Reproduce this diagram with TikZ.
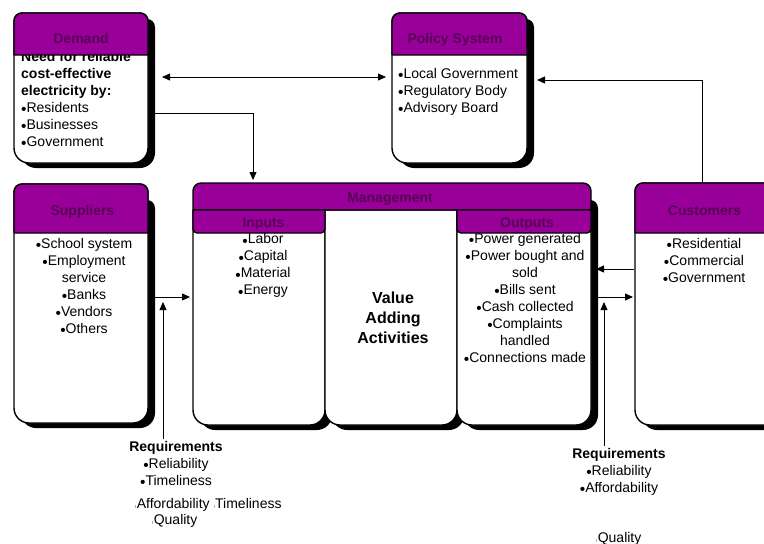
\documentclass[tikz,border=0pt]{standalone}
\usepackage{fontspec}
\usepackage{graphicx}
\setmainfont{Liberation Sans}
\usetikzlibrary{arrows.meta}

\definecolor{hdr}{HTML}{990099}
\definecolor{hdrtext}{HTML}{560056}
\definecolor{markc}{RGB}{170,190,120}

% small bullet sitting low on the line
\newcommand\bul{\raisebox{-2.6pt}{\scalebox{1.1}{\textbullet}}}
% faint tick in front of the loose requirement words
\newcommand\faint{\textcolor{markc}{\rule{0.8pt}{3.5pt}}\kern0.8pt}

% rounded panel: options, x1, y1, x2, y2, top radius, bottom radius
\newcommand\rshape[7]{%
  \path[#1] ({#2},{#3+#6}) .. controls ({#2},{#3+0.45*#6}) and ({#2+0.45*#6},{#3}) .. ({#2+#6},{#3})
    -- ({#4-#6},{#3}) .. controls ({#4-0.45*#6},{#3}) and ({#4},{#3+0.45*#6}) .. ({#4},{#3+#6})
    -- ({#4},{#5-#7}) .. controls ({#4},{#5-0.45*#7}) and ({#4-0.45*#7},{#5}) .. ({#4-#7},{#5})
    -- ({#2+#7},{#5}) .. controls ({#2+0.45*#7},{#5}) and ({#2},{#5-0.45*#7}) .. ({#2},{#5-#7})
    -- cycle;}

\tikzset{
  shadow/.style={fill=black},
  panel/.style={fill=white, draw=black, line width=1.4pt},
  header/.style={fill=hdr, draw=black, line width=1.4pt},
  frame/.style={inner sep=0pt, outer sep=0pt, draw=none},
  bodytext/.style={font=\fontsize{14}{17}\selectfont, inner sep=0pt},
  headtext/.style={font=\fontsize{14}{17}\selectfont\bfseries, text=hdrtext, inner sep=0pt, anchor=base},
  bigtext/.style={font=\fontsize{16}{20}\selectfont\bfseries, inner sep=0pt},
  link/.style={draw=black, line width=0.8pt, >={Triangle[length=8pt,width=7pt]}}
}

\begin{document}
\begin{tikzpicture}[x=1pt, y=-1pt]
\useasboundingbox (0,0) rectangle (764,544);
\clip (0,0) rectangle (764,544);
\fill[white] (0,0) rectangle (764,544);

% ---------- Demand ----------
\rshape{shadow}{21}{19}{155}{168}{8}{15}
\rshape{panel}{14}{13}{148}{163}{8}{15}
\node[bodytext, anchor=north west, align=left] (demandL) at (21,49.1)
  {\strut\textbf{Need for reliable}\\ \textbf{cost-effective}\\ \textbf{electricity by:}\\
   \bul Residents\\ \bul Businesses\\ \bul Government};
\rshape{header}{14}{13}{148}{55}{8}{0.5}
\node[headtext] (demandT) at (81,43) {Demand};
\node[frame, minimum width=134pt, minimum height=150pt] (demand) at (81,88) {};

% ---------- Policy System ----------
\rshape{shadow}{399}{19}{534}{168}{8}{15}
\rshape{panel}{392}{13}{527}{163}{8}{15}
\node[bodytext, anchor=north west, align=left] (policyL) at (398,66.1)
  {\strut\bul Local Government\\ \bul Regulatory Body\\ \bul Advisory Board};
\rshape{header}{392}{13}{527}{55}{8}{0.5}
\node[headtext] (policyT) at (455,43) {Policy System};
\node[frame, minimum width=135pt, minimum height=150pt] (policy) at (459.5,88) {};

% ---------- Suppliers ----------
\rshape{shadow}{21}{200}{155}{428}{8}{15}
\rshape{panel}{14}{184}{148}{423}{8}{15}
\node[bodytext, anchor=north, align=center] (supL) at (84,236.1)
  {\strut\bul School system\\ \bul Employment\\ service\\ \bul Banks\\ \bul Vendors\\ \bul Others};
\rshape{header}{14}{184}{148}{233}{8}{0.5}
\node[headtext] (supT) at (82.5,215) {Suppliers};
\node[frame, minimum width=134pt, minimum height=239pt] (suppliers) at (81,303.5) {};

% ---------- Management ----------
\rshape{shadow}{200}{215}{332}{430}{0.5}{15}
\rshape{shadow}{332}{215}{464}{430}{0.5}{15}
\rshape{shadow}{464}{200}{598}{430}{8}{15}
\rshape{panel}{193}{210}{325}{425}{0.5}{15}
\rshape{panel}{325}{210}{457}{425}{0.5}{15}
\rshape{panel}{457}{210}{591}{425}{0.5}{15}
\rshape{header}{193}{183}{591}{210}{8}{0.5}
\rshape{header}{193}{210}{325}{233}{0.5}{4}
\rshape{header}{457}{210}{591}{233}{0.5}{4}
\node[headtext] (mgmtT) at (390,202) {Management};
\node[headtext] (inT) at (263.5,227) {Inputs};
\node[headtext] (outT) at (527,227) {Outputs};
\node[bodytext, anchor=north, align=center] (inL) at (263,231.6)
  {\strut\bul Labor\\ \bul Capital\\ \bul Material\\ \bul Energy};
\node[bigtext, anchor=north, align=center] (valueL) at (393,289)
  {\strut Value\\ Adding\\ Activities};
\node[bodytext, anchor=north, align=center] (outL) at (525,231.1)
  {\strut\bul Power generated\\ \bul Power bought and\\ sold\\ \bul Bills sent\\
   \bul Cash collected\\ \bul Complaints\\ handled\\ \bul Connections made};
\node[frame, minimum width=398pt, minimum height=242pt] (mgmt) at (392,304) {};

% ---------- Customers ----------
\rshape{shadow}{642}{189}{800}{430}{8}{15}
\rshape{panel}{635}{183}{793}{425}{8}{15}
\node[bodytext, anchor=north, align=center] (custL) at (704,236.1)
  {\strut\bul Residential\\ \bul Commercial\\ \bul Government};
\rshape{header}{635}{183}{793}{233}{8}{0.5}
\node[headtext] (custT) at (704.5,215) {Customers};
\node[frame, minimum width=158pt, minimum height=242pt] (customers) at (714,304) {};

% ---------- Requirements ----------
\node[bodytext, anchor=north, align=center] (reqL) at (176,439.1)
  {\strut\textbf{Requirements}\\ \bul Reliability\\ \bul Timeliness};
\node[bodytext, anchor=base west] (affL) at (135,508) {\faint Affordability \faint Timeliness};
\node[bodytext, anchor=base west] (qualL) at (152,524) {\faint Quality};
\node[bodytext, anchor=north, align=center] (reqR) at (619,446.1)
  {\strut\textbf{Requirements}\\ \bul Reliability\\ \bul Affordability};
\node[bodytext, anchor=base west] (qualR) at (596,542) {\faint Quality};

% ---------- connectors ----------
\coordinate (joinL) at (163,297);
\coordinate (joinR) at (604,297);
\draw[link, <->, shorten <=14pt, shorten >=6pt] ([yshift=11pt]demand.east) -- ([yshift=11pt]policy.west);
\draw[link, ->, shorten <=7pt, shorten >=3pt] ([yshift=-25pt]demand.east) -| ([xshift=-139pt]mgmt.north);
\draw[link, ->, shorten >=10pt] ([xshift=-12pt]customers.north) |- ([yshift=8pt]policy.east);
\draw[link, ->, shorten <=7pt, shorten >=3pt] ([yshift=6.5pt]suppliers.east) -- ([yshift=7pt]mgmt.west);
\draw[link, ->, shorten <=1pt] ([yshift=35pt]customers.west) -- ([xshift=5pt,yshift=35pt]mgmt.east);
\draw[link, ->, shorten >=2pt] ([xshift=7pt,yshift=7pt]mgmt.east) -- ([yshift=7pt]customers.west);
\draw[link, ->, shorten >=5pt] (reqL.north -| joinL) -- (joinL);
\draw[link, ->, shorten >=5pt] (reqR.north -| joinR) -- (joinR);
\end{tikzpicture}
\end{document}
